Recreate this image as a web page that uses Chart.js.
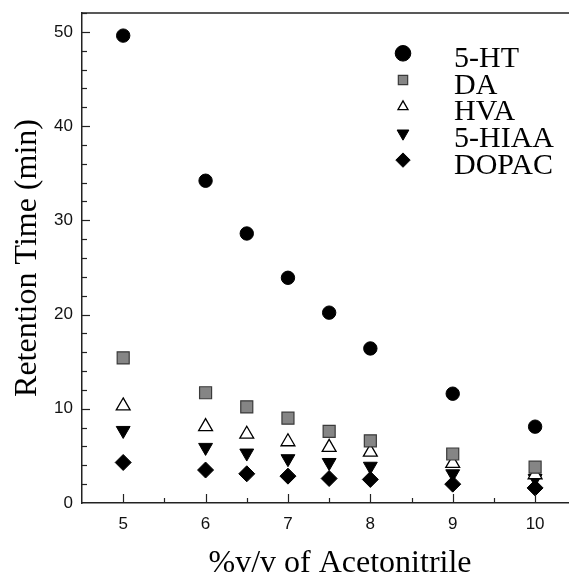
<!DOCTYPE html>
<html>
<head>
<meta charset="utf-8">
<script src="https://cdn.jsdelivr.net/npm/chart.js@4/dist/chart.umd.min.js"></script>
<style>
  html, body { margin: 0; padding: 0; background: #fff; overflow: hidden; }
  #wrap { width: 586px; height: 579px; position: relative; }
</style>
</head>
<body>
<div id="wrap"><canvas id="c" width="586" height="579"></canvas></div>
<script>
// ---- data ----
const acetonitrile = [5, 6, 6.5, 7, 7.5, 8, 9, 10];
const ht5   = [49.6, 34.2, 28.6, 23.9, 20.2, 16.4, 11.6, 8.1];
const da    = [15.4, 11.7, 10.2, 9.0, 7.6, 6.6, 5.2, 3.8];
const hva   = [10.3, 8.1, 7.3, 6.5, 5.9, 5.4, 4.2, 3.0];
const hiaa5 = [7.7, 5.9, 5.3, 4.7, 4.3, 3.9, 3.1, 2.6];
const dopac = [4.3, 3.5, 3.1, 2.85, 2.6, 2.5, 2.0, 1.6];
const seriesNames = ['5-HT', 'DA', 'HVA', '5-HIAA', 'DOPAC'];
const xTickValues = [5, 6, 7, 8, 9, 10];
const yTickValues = [0, 10, 20, 30, 40, 50];
const xTitle = '%v/v of Acetonitrile';
const yTitle = 'Retention Time (min)';

const pts = arr => arr.map((v, i) => ({ x: acetonitrile[i], y: v }));

const styles = [
  { pointStyle: 'circle',   radius: 6.7, rotation: 0,   bg: '#000', border: '#000', bw: 1,   legendR: 7.8 },
  { pointStyle: 'rect',     radius: 8.5, rotation: 0,   bg: '#858585', border: '#3a3a3a', bw: 1.2, legendR: 6.6 },
  { pointStyle: 'triangle', radius: 8,   rotation: 0,   bg: '#fff', border: '#000', bw: 1.3, legendR: 5.8 },
  { pointStyle: 'triangle', radius: 8,   rotation: 180, bg: '#000', border: '#000', bw: 1,   legendR: 6.8 },
  { pointStyle: 'rectRot',  radius: 8,   rotation: 0,   bg: '#000', border: '#000', bw: 1,   legendR: 7.2 }
];
const allSeries = [ht5, da, hva, hiaa5, dopac];

const datasets = allSeries.map((s, i) => ({
  label: seriesNames[i],
  data: pts(s),
  showLine: false,
  pointStyle: styles[i].pointStyle,
  pointRadius: styles[i].radius,
  pointHoverRadius: styles[i].radius,
  pointRotation: styles[i].rotation,
  backgroundColor: styles[i].bg,
  borderColor: styles[i].border,
  pointBorderWidth: styles[i].bw,
  order: i
}));

const frameAndTicks = {
  id: 'frameAndTicks',
  afterDraw(chart) {
    const { ctx, chartArea: a, scales: { x, y } } = chart;
    ctx.save();
    ctx.strokeStyle = '#222';
    ctx.lineWidth = 1.3;
    // top frame
    ctx.beginPath();
    ctx.moveTo(a.left, a.top);
    ctx.lineTo(a.right + 2, a.top);
    ctx.stroke();
    // x ticks (inward)
    ctx.lineWidth = 1.2;
    for (let v = 5; v <= 10.01; v += 0.5) {
      const px = Math.round(x.getPixelForValue(v)) + 0.5;
      const len = Number.isInteger(v) ? 9 : 5;
      ctx.beginPath();
      ctx.moveTo(px, a.bottom);
      ctx.lineTo(px, a.bottom - len);
      ctx.stroke();
    }
    // y ticks (inward)
    for (let v = 2; v <= 52; v += 2) {
      const py = Math.round(y.getPixelForValue(v)) + 0.5;
      const len = (v % 10 === 0) ? 8 : 5;
      ctx.beginPath();
      ctx.moveTo(a.left, py);
      ctx.lineTo(a.left + len, py);
      ctx.stroke();
    }
    // x axis title
    ctx.fillStyle = '#000';
    ctx.font = '32px "Liberation Serif", "Times New Roman", serif';
    ctx.textAlign = 'center';
    ctx.textBaseline = 'alphabetic';
    ctx.fillText(xTitle, 340, 572);
    ctx.restore();
  }
};

const customLegend = {
  id: 'customLegend',
  afterDraw(chart) {
    const { ctx } = chart;
    const mx = 403, tx = 454, y0 = 53.3, dy = 26.7;
    ctx.save();
    chart.data.datasets.forEach((ds, i) => {
      const yy = y0 + i * dy;
      ctx.fillStyle = ds.backgroundColor;
      ctx.strokeStyle = ds.borderColor;
      ctx.lineWidth = ds.pointBorderWidth;
      Chart.helpers.drawPoint(ctx, {
        pointStyle: ds.pointStyle,
        radius: styles[i].legendR,
        rotation: ds.pointRotation,
        borderWidth: ds.pointBorderWidth
      }, mx, yy);
      ctx.fillStyle = '#000';
      ctx.font = '30px "Liberation Serif", "Times New Roman", serif';
      ctx.textAlign = 'left';
      ctx.textBaseline = 'alphabetic';
      ctx.fillText(ds.label, tx, yy + 13.5);
    });
    ctx.restore();
  }
};

new Chart(document.getElementById('c'), {
  type: 'scatter',
  data: { datasets },
  plugins: [frameAndTicks, customLegend],
  options: {
    responsive: false,
    animation: false,
    layout: { padding: { top: 13, right: 1, left: 0, bottom: 0 } },
    plugins: { legend: { display: false }, tooltip: { enabled: false } },
    scales: {
      x: {
        type: 'linear',
        position: 'bottom',
        min: 4.5,
        max: 10.5,
        grid: { display: false, drawTicks: false },
        border: { display: true, color: '#222', width: 1.5 },
        ticks: {
          color: '#111',
          padding: 11,
          font: { family: '"Liberation Sans", Arial, sans-serif', size: 17 }
        },
        afterBuildTicks: s => { s.ticks = xTickValues.map(v => ({ value: v })); },
        afterFit: s => { s.height = 76; s.paddingLeft = 0; s.paddingRight = 0; },
        title: { display: false, text: xTitle }
      },
      y: {
        type: 'linear',
        position: 'left',
        min: 0,
        max: 52,
        grid: { display: false, drawTicks: false },
        border: { display: true, color: '#222', width: 1.5 },
        ticks: {
          color: '#111',
          padding: 9,
          font: { family: '"Liberation Sans", Arial, sans-serif', size: 17 }
        },
        afterBuildTicks: s => { s.ticks = yTickValues.map(v => ({ value: v })); },
        afterFit: s => { s.width = 82; s.paddingTop = 0; s.paddingBottom = 0; },
        title: {
          display: true,
          text: yTitle,
          color: '#000',
          font: { family: '"Liberation Serif", "Times New Roman", serif', size: 32, lineHeight: 1 },
          padding: { top: 12, bottom: 0 }
        }
      }
    }
  }
});
</script>
</body>
</html>
